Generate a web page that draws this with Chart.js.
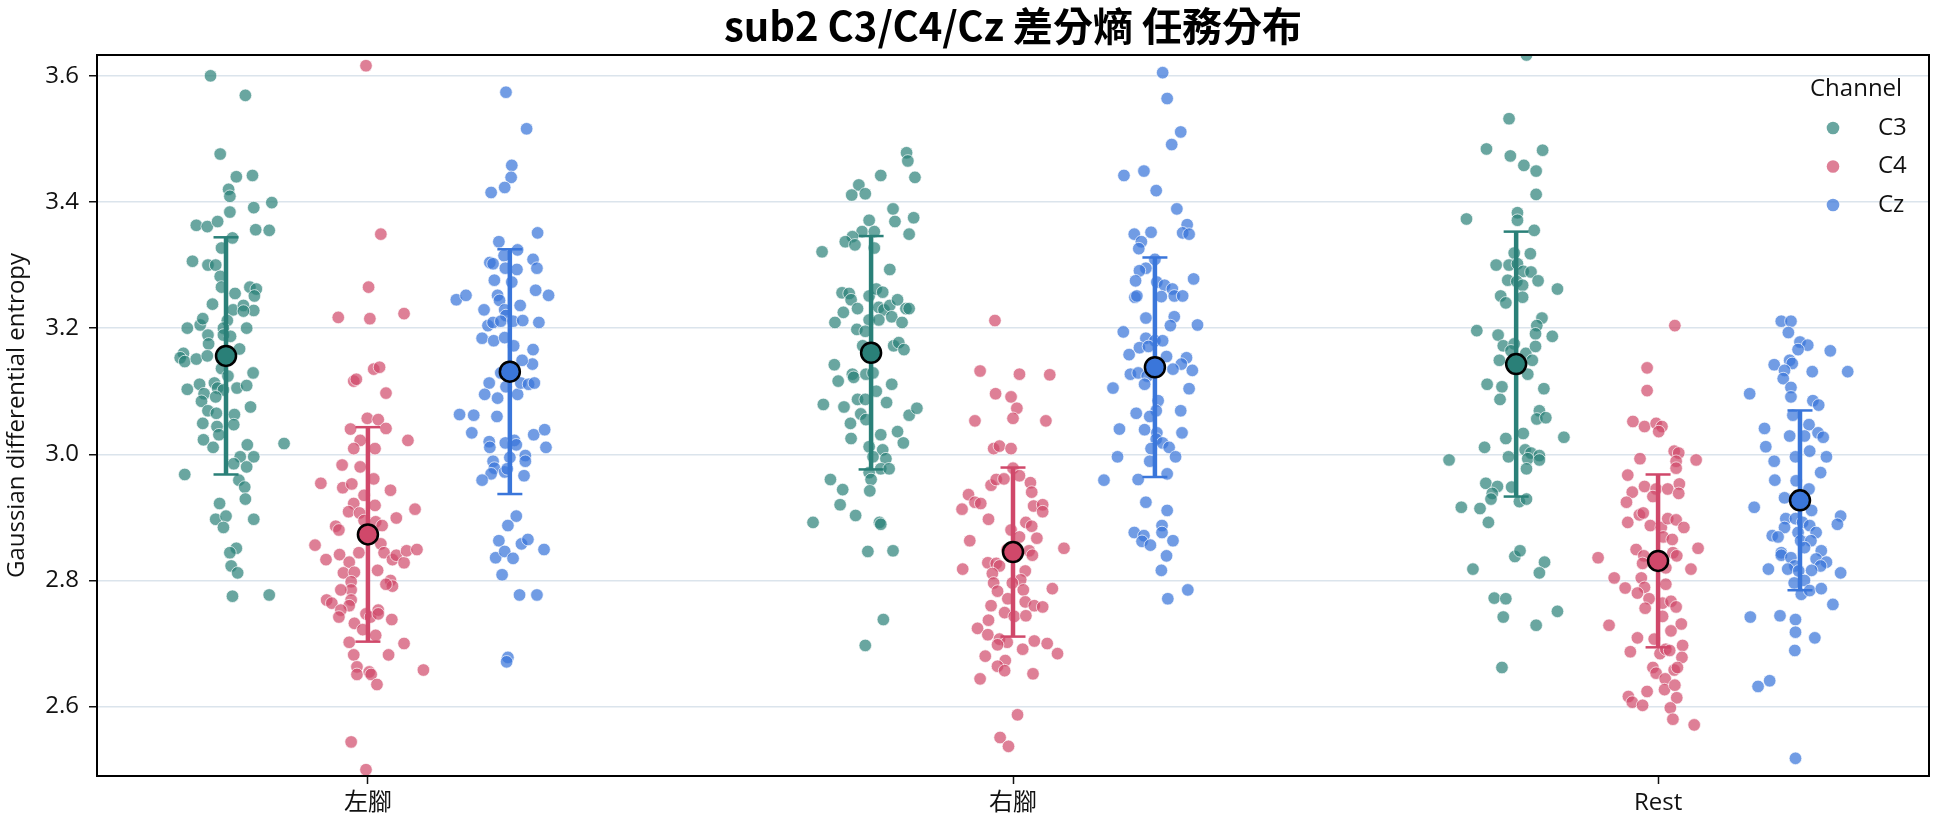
<!DOCTYPE html>
<html>
<head>
<meta charset="utf-8">
<script src="https://cdn.jsdelivr.net/npm/chart.js@4.4.1/dist/chart.umd.min.js"></script>
<style>
  html, body { margin: 0; padding: 0; background: #fff; }
</style>
</head>
<body>
<canvas id="entropyChart" width="1944" height="827"></canvas>
<script>
const chartTitle = 'sub2 C3/C4/Cz 差分熵 任務分布';
const categories = ['左腳', '右腳', 'Rest'];
const channels = ['C3', 'C4', 'Cz'];
const yTicks = [2.6, 2.8, 3.0, 3.2, 3.4, 3.6];

// trial values and jitter
const leftC3Values = [3.600,3.569,3.476,3.440,3.442,3.420,3.409,3.384,3.391,3.399,3.363,3.361,3.369,3.356,3.355,3.343,3.327,3.306,3.300,3.300,3.282,3.265,3.255,3.265,3.262,3.251,3.238,3.229,3.236,3.228,3.227,3.200,3.205,3.215,3.212,3.200,3.200,3.189,3.175,3.189,3.187,3.167,3.160,3.153,3.147,3.151,3.156,3.136,3.124,3.129,3.103,3.111,3.096,3.113,3.105,3.102,3.105,3.109,3.084,3.091,3.069,3.065,3.063,3.047,3.075,3.049,3.044,3.023,3.031,3.011,3.015,2.996,2.996,3.017,2.985,2.980,2.968,2.959,2.948,2.929,2.922,2.897,2.902,2.884,2.897,2.851,2.844,2.823,2.812,2.775,2.777];
const leftC3Jitter = [-0.024,0.030,-0.009,0.016,0.041,0.004,0.006,0.006,0.043,0.071,-0.046,-0.029,-0.013,0.046,0.067,0.010,-0.007,-0.052,-0.028,-0.016,-0.009,-0.007,0.014,0.037,0.047,0.044,-0.021,0.011,0.027,0.043,0.027,-0.060,-0.040,-0.036,0.002,0.032,-0.004,-0.028,-0.027,-0.004,0.007,0.021,-0.066,-0.071,-0.064,-0.046,-0.029,-0.007,0.003,0.042,-0.060,-0.041,-0.034,-0.018,-0.013,-0.004,0.017,0.032,-0.038,-0.016,-0.028,-0.015,0.013,0.012,0.038,-0.036,-0.014,-0.035,-0.011,-0.020,0.033,0.022,0.043,0.090,0.012,0.032,-0.064,0.020,0.029,0.030,-0.010,-0.016,0.000,-0.004,0.043,0.016,0.006,0.008,0.018,0.010,0.067];

const leftC4Values = [3.616,3.349,3.265,3.217,3.215,3.223,3.116,3.119,3.135,3.138,3.097,3.057,3.055,3.040,3.022,3.041,3.022,3.009,3.009,2.983,2.980,2.954,2.947,2.953,2.961,2.935,2.943,2.922,2.909,2.907,2.919,2.899,2.913,2.886,2.880,2.895,2.893,2.887,2.856,2.833,2.841,2.829,2.844,2.858,2.844,2.833,2.840,2.828,2.847,2.849,2.812,2.813,2.816,2.798,2.785,2.800,2.791,2.794,2.785,2.769,2.764,2.769,2.760,2.753,2.742,2.747,2.742,2.753,2.747,2.738,2.732,2.722,2.713,2.702,2.682,2.682,2.700,2.663,2.651,2.655,2.651,2.635,2.658,2.544,2.500];
const leftC4Jitter = [-0.003,0.020,0.001,-0.046,0.003,0.056,-0.022,-0.018,0.009,0.018,0.028,-0.001,0.016,-0.027,-0.012,0.028,0.062,-0.022,0.011,-0.040,-0.012,-0.073,-0.039,-0.025,0.009,-0.006,0.035,-0.022,-0.030,-0.013,0.011,0.044,0.073,-0.050,-0.045,-0.006,0.012,0.022,-0.082,-0.065,-0.044,-0.029,-0.014,0.020,0.025,0.038,0.044,0.056,0.060,0.076,-0.038,-0.021,0.015,-0.026,-0.026,0.035,0.038,0.028,-0.042,-0.064,-0.056,-0.026,-0.029,-0.042,-0.045,-0.003,0.004,0.016,0.016,0.037,-0.021,-0.008,0.012,-0.029,-0.022,0.032,0.056,-0.017,-0.017,0.002,0.005,0.014,0.086,-0.026,-0.003];

const leftCzValues = [3.574,3.516,3.458,3.439,3.423,3.415,3.351,3.337,3.324,3.315,3.304,3.302,3.309,3.295,3.293,3.295,3.276,3.273,3.260,3.252,3.245,3.252,3.252,3.244,3.236,3.229,3.229,3.220,3.204,3.209,3.211,3.211,3.212,3.209,3.184,3.180,3.185,3.172,3.166,3.143,3.149,3.129,3.113,3.095,3.089,3.107,3.095,3.113,3.111,3.113,3.063,3.062,3.060,3.034,3.020,3.011,3.018,3.022,3.015,3.031,3.039,3.011,2.995,2.998,2.989,2.989,2.978,2.969,2.972,2.977,2.959,2.966,2.902,2.887,2.863,2.858,2.865,2.849,2.836,2.846,2.835,2.809,2.777,2.777,2.678,2.671];
const leftCzJitter = [-0.006,0.026,0.003,0.002,-0.008,-0.029,0.043,-0.017,0.012,-0.009,-0.031,-0.026,0.036,0.042,0.011,-0.007,-0.024,0.003,0.040,0.060,-0.083,-0.068,-0.019,-0.016,0.016,-0.040,-0.008,-0.006,-0.034,-0.026,-0.014,0.005,0.020,0.045,-0.043,-0.025,-0.008,0.006,0.036,0.035,0.019,-0.014,-0.032,-0.039,-0.019,-0.006,0.012,0.017,0.029,0.038,-0.078,-0.056,-0.020,-0.059,-0.032,-0.031,-0.007,0.007,0.010,0.037,0.054,0.056,0.000,0.024,0.024,-0.026,-0.024,-0.029,-0.008,-0.004,-0.043,0.022,0.010,-0.003,-0.017,0.018,0.028,0.053,-0.022,-0.008,0.005,-0.012,0.015,0.042,-0.003,-0.005];

const rightC3Values = [3.478,3.465,3.439,3.442,3.427,3.411,3.413,3.389,3.369,3.375,3.371,3.349,3.353,3.353,3.345,3.337,3.332,3.327,3.321,3.293,3.256,3.255,3.245,3.231,3.251,3.262,3.257,3.233,3.229,3.236,3.245,3.231,3.231,3.225,3.209,3.213,3.213,3.218,3.209,3.198,3.195,3.172,3.172,3.177,3.166,3.142,3.116,3.127,3.122,3.127,3.129,3.111,3.079,3.075,3.087,3.087,3.100,3.082,3.064,3.049,3.055,3.062,3.073,3.036,3.025,3.031,3.018,3.012,3.007,2.996,2.993,2.977,2.977,2.971,2.960,2.942,2.960,2.944,2.920,2.903,2.892,2.892,2.889,2.846,2.847,2.738,2.697];
const rightC3Jitter = [0.055,0.057,0.068,0.015,-0.019,-0.030,-0.009,0.034,0.037,0.066,-0.003,0.059,-0.014,0.005,-0.029,-0.040,-0.025,0.005,-0.076,0.029,-0.045,-0.034,-0.031,-0.021,-0.003,0.008,0.018,0.012,0.020,0.029,0.041,0.054,0.059,-0.043,-0.056,-0.003,0.012,0.032,0.048,-0.022,-0.009,-0.013,0.035,0.043,0.051,-0.057,-0.051,-0.029,-0.027,-0.008,0.003,0.032,-0.074,-0.042,-0.021,-0.009,0.008,0.024,-0.016,-0.032,-0.008,0.059,0.071,0.041,-0.031,0.015,0.050,-0.003,0.018,0.003,0.023,0.015,0.028,-0.003,0.000,-0.002,-0.063,-0.044,-0.048,-0.024,-0.090,0.013,0.015,-0.005,0.034,0.019,-0.009];

const rightC4Values = [3.212,3.132,3.127,3.126,3.096,3.091,3.073,3.053,3.057,3.053,3.009,3.013,3.009,2.978,2.951,2.960,2.961,2.966,2.955,2.940,2.936,2.924,2.922,2.913,2.897,2.918,2.920,2.909,2.892,2.886,2.880,2.869,2.867,2.863,2.849,2.847,2.840,2.851,2.828,2.827,2.823,2.818,2.811,2.815,2.801,2.796,2.796,2.783,2.785,2.787,2.771,2.766,2.760,2.758,2.760,2.749,2.743,2.744,2.737,2.724,2.714,2.707,2.702,2.698,2.691,2.704,2.700,2.684,2.680,2.673,2.664,2.657,2.652,2.644,2.587,2.551,2.537];
const rightC4Jitter = [-0.028,-0.051,0.010,0.057,-0.027,-0.003,0.006,-0.059,0.000,0.051,-0.030,-0.021,-0.003,0.000,-0.034,-0.026,-0.014,0.010,0.027,0.029,-0.069,-0.059,-0.050,-0.079,-0.038,0.032,0.046,0.046,0.020,0.029,-0.003,0.010,0.037,-0.067,-0.009,0.025,0.030,0.079,-0.039,-0.026,-0.021,-0.078,-0.032,0.019,0.012,-0.030,-0.001,-0.024,0.016,0.061,-0.008,0.019,0.033,0.046,-0.034,-0.013,0.002,0.020,-0.038,-0.055,-0.039,-0.021,-0.009,-0.024,0.015,0.033,0.053,0.069,-0.043,-0.012,-0.024,-0.013,0.031,-0.051,0.007,-0.020,-0.007];

const rightCzValues = [3.605,3.564,3.511,3.491,3.442,3.449,3.418,3.389,3.364,3.351,3.349,3.349,3.352,3.337,3.326,3.309,3.295,3.291,3.275,3.273,3.268,3.262,3.278,3.249,3.251,3.250,3.251,3.251,3.216,3.218,3.204,3.205,3.194,3.184,3.180,3.180,3.169,3.158,3.171,3.155,3.153,3.143,3.135,3.133,3.127,3.129,3.124,3.111,3.105,3.104,3.085,3.069,3.065,3.060,3.069,3.040,3.039,3.034,3.034,3.024,3.018,3.009,3.011,2.996,2.996,2.989,2.959,2.960,2.969,2.924,2.911,2.876,2.871,2.862,2.856,2.887,2.876,2.863,2.839,2.816,2.785,2.771];
const rightCzJitter = [0.012,0.019,0.040,0.026,-0.048,-0.017,0.002,0.034,0.050,0.043,0.053,-0.032,-0.006,-0.021,-0.025,0.000,-0.014,-0.024,-0.030,0.003,0.015,0.027,0.060,-0.031,-0.028,0.010,0.030,0.043,-0.014,0.030,0.024,0.066,-0.049,-0.014,0.000,0.012,-0.024,-0.040,-0.010,0.018,0.049,0.041,0.028,0.058,-0.038,-0.026,-0.012,-0.016,-0.065,0.053,0.005,0.002,-0.029,-0.008,0.040,-0.055,-0.016,0.003,0.042,0.002,0.012,-0.006,0.022,-0.058,0.032,-0.008,-0.079,-0.026,0.019,-0.014,0.019,-0.032,-0.017,-0.020,-0.007,0.011,0.011,0.028,0.018,0.010,0.051,0.020];

const restC3Values = [3.633,3.532,3.484,3.473,3.482,3.458,3.449,3.412,3.373,3.383,3.371,3.355,3.319,3.318,3.300,3.300,3.302,3.290,3.289,3.276,3.274,3.268,3.275,3.262,3.251,3.240,3.249,3.196,3.189,3.172,3.216,3.204,3.191,3.187,3.175,3.164,3.160,3.171,3.149,3.149,3.127,3.111,3.107,3.087,3.104,3.069,3.056,3.058,3.027,3.025,3.033,3.011,2.991,2.996,3.007,3.002,2.998,2.993,2.991,2.977,2.954,2.949,2.938,2.929,2.948,2.925,2.929,2.916,2.914,2.892,2.838,2.847,2.829,2.812,2.818,2.772,2.771,2.742,2.729,2.751,2.662];
const restC3Jitter = [0.016,-0.011,-0.046,-0.009,0.041,0.012,0.031,0.031,-0.077,0.002,0.002,0.028,-0.003,0.022,-0.031,-0.011,0.002,0.011,0.023,-0.013,0.001,0.010,0.034,0.064,-0.024,-0.016,0.010,-0.061,-0.028,-0.020,0.040,0.032,0.030,0.056,-0.003,-0.008,0.015,0.030,-0.026,0.025,0.018,-0.045,-0.022,-0.025,0.043,0.036,0.032,0.046,0.074,-0.016,0.011,-0.049,-0.104,-0.012,0.014,0.023,0.036,0.018,0.036,0.016,-0.047,-0.029,-0.037,-0.039,-0.007,0.005,0.016,-0.085,-0.056,-0.043,-0.002,0.006,0.044,0.036,-0.067,-0.034,-0.016,-0.020,0.031,0.064,-0.022];

const restC4Values = [3.204,3.137,3.101,3.052,3.044,3.049,3.044,3.036,3.005,3.002,2.989,2.993,2.991,2.978,2.967,2.949,2.945,2.945,2.953,2.938,2.940,2.924,2.933,2.904,2.907,2.892,2.887,2.884,2.898,2.896,2.884,2.869,2.865,2.849,2.836,2.839,2.827,2.844,2.839,2.851,2.818,2.820,2.804,2.788,2.804,2.789,2.780,2.794,2.771,2.756,2.764,2.767,2.758,2.743,2.731,2.729,2.709,2.707,2.720,2.687,2.684,2.691,2.689,2.697,2.678,2.662,2.653,2.658,2.662,2.644,2.627,2.634,2.624,2.616,2.607,2.602,2.614,2.598,2.580,2.571];
const restC4Jitter = [0.026,-0.017,-0.017,-0.039,-0.021,-0.003,0.006,0.001,0.025,0.032,0.028,-0.028,0.059,0.028,-0.047,-0.021,-0.003,0.015,0.033,0.032,-0.040,-0.049,-0.008,-0.029,-0.023,-0.047,-0.012,0.005,0.015,0.028,0.040,0.008,0.022,-0.034,-0.093,-0.022,-0.024,0.023,0.029,0.062,0.051,0.012,-0.068,-0.051,-0.026,-0.021,-0.032,0.012,-0.014,-0.020,0.007,0.020,0.028,0.007,0.036,-0.076,-0.032,-0.006,0.020,-0.043,0.003,0.012,0.018,0.038,0.037,-0.008,-0.003,0.025,0.030,0.011,0.010,0.026,-0.017,-0.046,-0.040,-0.024,0.029,0.019,0.023,0.056];

const restCzValues = [3.211,3.211,3.193,3.178,3.173,3.166,3.164,3.149,3.142,3.144,3.133,3.131,3.131,3.120,3.106,3.096,3.091,3.085,3.078,3.062,3.041,3.047,3.029,3.029,3.034,3.027,3.012,3.005,2.996,2.996,2.989,2.971,2.959,2.958,2.945,2.931,2.916,2.911,2.902,2.889,2.898,2.898,2.892,2.887,2.884,2.876,2.876,2.871,2.869,2.863,2.863,2.852,2.847,2.844,2.840,2.836,2.834,2.829,2.823,2.823,2.818,2.818,2.815,2.816,2.812,2.800,2.796,2.778,2.784,2.787,2.762,2.742,2.744,2.738,2.718,2.709,2.689,2.641,2.632,2.518];
const restCzJitter = [-0.029,-0.014,-0.018,0.000,0.012,-0.003,0.047,-0.016,-0.040,-0.012,-0.024,0.019,0.074,-0.026,-0.014,-0.078,-0.014,0.020,0.029,-0.011,-0.055,0.014,-0.016,0.007,0.028,0.036,-0.053,0.015,-0.007,0.041,-0.040,0.032,-0.039,-0.006,0.014,-0.024,-0.071,0.018,0.063,0.058,-0.022,-0.007,0.004,0.015,-0.024,-0.003,0.025,-0.043,-0.034,0.001,0.017,0.007,0.033,-0.029,-0.029,-0.014,0.025,0.041,-0.008,0.032,-0.049,-0.019,-0.002,0.018,0.063,0.007,-0.009,0.002,0.015,0.033,0.051,-0.077,-0.031,-0.007,-0.007,0.023,-0.008,-0.047,-0.065,-0.007];

// mean and standard deviation per category
const c3Mean = [3.156, 3.161, 3.143];
const c3Sd = [0.188, 0.185, 0.210];
const c4Mean = [2.873, 2.845, 2.831];
const c4Sd = [0.170, 0.134, 0.137];
const czMean = [3.131, 3.138, 2.927];
const czSd = [0.194, 0.174, 0.1425];

const channelData = {
    C3: { values: [leftC3Values, rightC3Values, restC3Values], jitter: [leftC3Jitter, rightC3Jitter, restC3Jitter], mean: c3Mean, sd: c3Sd },
    C4: { values: [leftC4Values, rightC4Values, restC4Values], jitter: [leftC4Jitter, rightC4Jitter, restC4Jitter], mean: c4Mean, sd: c4Sd },
    Cz: { values: [leftCzValues, rightCzValues, restCzValues], jitter: [leftCzJitter, rightCzJitter, restCzJitter], mean: czMean, sd: czSd }
};

const channelColors = {
    C3: { base: 'rgb(42, 128, 120)', point: 'rgba(42, 128, 120, 0.7)' },
    C4: { base: 'rgb(208, 72, 106)', point: 'rgba(208, 72, 106, 0.7)' },
    Cz: { base: 'rgb(58, 118, 218)', point: 'rgba(58, 118, 218, 0.72)' }
};
const dodge = [-0.22, 0, 0.22];

const FONT = '"Open Sans", "Noto Sans CJK TC", sans-serif';
Chart.defaults.font.family = FONT;
Chart.defaults.color = '#111';

const datasets = [];
channels.forEach((ch, ci) => {
    const d = channelData[ch];
    const points = [];
    categories.forEach((cat, k) => {
        const vals = d.values[k];
        const jit = d.jitter[k];
        for (let i = 0; i < vals.length; i++) {
            points.push({ x: k + dodge[ci] + (jit[i] || 0), y: vals[i] });
        }
    });
    datasets.push({
        label: ch,
        data: points,
        backgroundColor: channelColors[ch].point,
        borderColor: 'rgba(255, 255, 255, 0.85)',
        borderWidth: 0.8,
        pointRadius: 6.3,
        order: 3,
        clip: 0
    });

    // mean +- sd bar with caps
    categories.forEach((cat, k) => {
        const x = k + dodge[ci];
        datasets.push({
            label: ch + ' sd',
            data: [{ x: x, y: d.mean[k] - d.sd[k] }, { x: x, y: d.mean[k] + d.sd[k] }],
            showLine: true,
            borderColor: channelColors[ch].base,
            borderWidth: 4.5,
            pointStyle: 'line',
            pointRadius: 12.5,
            pointBorderWidth: 2.5,
            pointBorderColor: channelColors[ch].base,
            order: 2
        });
    });

    datasets.push({
        label: ch + ' mean',
        data: categories.map((cat, k) => ({ x: k + dodge[ci], y: d.mean[k] })),
        backgroundColor: channelColors[ch].base,
        borderColor: '#000',
        borderWidth: 2.5,
        pointRadius: 10,
        order: 1
    });
});

const frameAndLegend = {
    id: 'frameAndLegend',
    afterDatasetsDraw(chart) {
        const { ctx, chartArea } = chart;
        ctx.save();
        ctx.strokeStyle = '#000';
        ctx.lineWidth = 2;
        ctx.strokeRect(chartArea.left, chartArea.top, chartArea.right - chartArea.left, chartArea.bottom - chartArea.top);

        // title centred over the plot area
        ctx.fillStyle = '#000';
        ctx.textAlign = 'center';
        ctx.textBaseline = 'middle';
        ctx.font = 'bold 40px "Noto Sans CJK TC", sans-serif';
        ctx.fillText(chartTitle, (chartArea.left + chartArea.right) / 2, 26);

        const right = chartArea.right;
        const top = chartArea.top;
        ctx.font = '24px ' + FONT;
        ctx.fillStyle = '#111';
        ctx.textAlign = 'left';
        ctx.fillText('Channel', right - 119, top + 34);
        channels.forEach((ch, i) => {
            const y = top + 73 + i * 38.5;
            ctx.beginPath();
            ctx.arc(right - 96, y, 6.3, 0, Math.PI * 2);
            ctx.fillStyle = channelColors[ch].point;
            ctx.fill();
            ctx.fillStyle = '#111';
            ctx.fillText(ch, right - 51, y);
        });
        ctx.restore();
    }
};

new Chart(document.getElementById('entropyChart'), {
    type: 'scatter',
    data: { datasets: datasets },
    plugins: [frameAndLegend],
    options: {
        responsive: false,
        animation: false,
        events: [],
        layout: { padding: { left: 0, right: 10, top: 55, bottom: 0 } },
        plugins: {
            legend: { display: false },
            tooltip: { enabled: false },
            title: { display: false }
        },
        scales: {
            x: {
                type: 'linear',
                min: -0.42,
                max: 2.42,
                afterFit(scale) { scale.height = 51; },
                afterBuildTicks(scale) {
                    scale.ticks = categories.map((c, i) => ({ value: i }));
                },
                ticks: {
                    padding: 5,
                    font: { size: 24 },
                    color: '#111',
                    callback: (v) => categories[v]
                },
                grid: {
                    drawOnChartArea: false,
                    tickLength: 8,
                    tickColor: '#111',
                    tickWidth: 1.5
                },
                border: { display: false }
            },
            y: {
                min: 2.49,
                max: 3.633,
                afterFit(scale) { scale.width = 97; },
                afterBuildTicks(scale) {
                    scale.ticks = yTicks.map(v => ({ value: v }));
                },
                ticks: {
                    padding: 10,
                    font: { size: 24 },
                    color: '#111',
                    callback: (v) => Number(v).toFixed(1)
                },
                grid: {
                    color: '#dbe4ec',
                    lineWidth: 1.5,
                    tickLength: 8,
                    tickColor: '#111',
                    tickWidth: 1.5
                },
                border: { display: false },
                title: {
                    display: true,
                    text: 'Gaussian differential entropy',
                    font: { size: 24 },
                    color: '#111',
                    padding: { top: 3, bottom: 0 }
                }
            }
        }
    }
});
</script>
</body>
</html>
